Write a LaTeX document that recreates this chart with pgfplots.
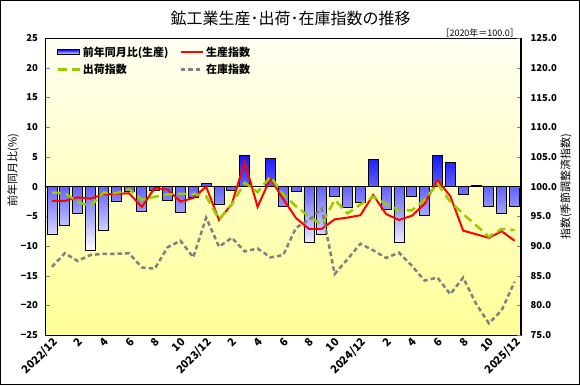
\documentclass[border=0pt]{standalone}
\usepackage{pgfplots}
\usepackage{pgfplotstable}
\pgfplotsset{compat=1.18}
\usepackage{fontspec}
\setmainfont{Noto Sans CJK JP}
\definecolor{barblue}{RGB}{20,20,255}
\definecolor{linegreen}{RGB}{153,204,0}
\definecolor{linegray}{RGB}{128,128,128}
\definecolor{bgtop}{RGB}{255,255,242}
\definecolor{bgbot}{RGB}{255,255,150}

\pgfplotstableread{
x yoy prod ship inv
0 -8.0 97.6 99.0 86.5
1 -6.5 97.6 98.9 88.8
2 -4.5 98.2 97.5 87.5
3 -10.7 98.0 96.7 88.5
4 -7.4 98.7 99.0 88.7
5 -2.5 98.8 98.9 88.7
6 -0.8 98.9 99.6 88.8
7 -4.1 96.6 97.8 86.4
8 -0.7 99.8 98.3 86.2
9 -2.3 99.5 98.7 89.8
10 -4.3 97.5 98.8 90.9
11 -1.8 98.1 98.8 88.1
12 0.6 100.0 98.4 94.8
13 -3.0 94.4 94.5 89.9
14 -0.6 97.1 97.0 91.4
15 5.3 104.2 100.7 89.1
16 0.0 96.6 99.1 89.6
17 4.8 101.4 101.7 88.1
18 -3.4 97.9 98.7 88.5
19 -0.8 94.7 96.7 93.1
20 -9.4 92.9 95.0 94.4
21 -8.0 92.9 93.6 96.3
22 -1.6 94.5 97.8 85.3
23 -3.5 94.8 95.5 87.8
24 -2.6 95.2 97.0 90.4
25 4.6 98.6 98.3 89.3
26 -3.8 95.4 97.1 88.0
27 -9.4 94.4 96.0 88.9
28 -1.6 95.1 96.0 86.7
29 -4.8 97.1 97.8 84.2
30 5.2 101.1 100.5 84.7
31 4.1 98.4 97.5 81.9
32 -1.3 92.6 95.4 84.7
33 0.2 92.0 93.5 80.3
34 -3.3 91.4 91.6 77.0
35 -4.5 92.5 92.9 79.2
36 -3.3 90.9 92.7 84.0
}\data

\begin{document}
\begin{tikzpicture}[x=1pt,y=1pt]
% axis box: lower-left corner at (0,0), 475.5 x 297
\path[use as bounding box] (-45.5,-49.8) rectangle (534.5,335.2);
\fill[white] (-45.5,-49.8) rectangle (534.5,335.2);
\draw[black, line width=1pt] (-45,-49.3) rectangle (534,334.7);
\node[font=\fontsize{16}{16}\selectfont] at (245,317.2) {鉱工業生産･出荷･在庫指数の推移};
\node[anchor=east, font=\fontsize{9}{9}\selectfont] at (477,302.2) {［2020年＝100.0］};

\begin{axis}[
  scale only axis,
  width=475.5pt, height=297pt,
  xmin=-0.5, xmax=36.5, ymin=-25, ymax=25,
  ytick={-25,-20,...,25},
  yticklabels={−25,−20,−15,−10,−5,0,5,10,15,20,25},
  ytick pos=left, tick align=inside, major tick length=4pt,
  xtick={0,2,...,36},
  xticklabels={2022/12,2,4,6,8,10,2023/12,2,4,6,8,10,2024/12,2,4,6,8,10,2025/12},
  xtick pos=bottom, x tick style={draw=none},
  xticklabel style={rotate=45, anchor=north east, font=\fontsize{11}{11}\selectfont\bfseries, inner sep=1pt},
  yticklabel style={font=\fontsize{9.5}{9.5}\selectfont\bfseries, xshift=-4pt},
  axis background/.style={top color=bgtop, bottom color=bgbot},
  axis line style={line width=1.2pt},
  ylabel={前年同月比(\%)},
  ylabel style={at={(axis description cs:-0.068,0.556)}, anchor=center, font=\fontsize{11}{11}\selectfont},
]
\addplot[ybar, bar width=10pt, draw=black, line width=0.8pt, top color=barblue, bottom color=white] table[x=x,y=yoy]{\data};
\draw[black, line width=1pt] (axis cs:-0.5,0) -- (axis cs:36.5,0);
\end{axis}

\begin{axis}[
  scale only axis,
  width=475.5pt, height=297pt,
  xmin=-0.5, xmax=36.5, ymin=75, ymax=125,
  hide x axis, axis y line*=right, y axis line style={-, line width=1.2pt},
  ytick={75,80,...,125},
  yticklabels={75.0,80.0,85.0,90.0,95.0,100.0,105.0,110.0,115.0,120.0,125.0},
  tick align=inside, major tick length=4pt,
  yticklabel style={font=\fontsize{9.5}{9.5}\selectfont\bfseries, xshift=6pt},
  ylabel={指数(季節調整済指数)},
  ylabel style={at={(axis description cs:1.095,0.5)}, anchor=center, font=\fontsize{11}{11}\selectfont},
  legend columns=2,
  legend cell align=left,
  legend image code/.code={\draw[#1] (0pt,0pt) -- (22pt,0pt);},
  legend style={draw=none, fill=none, at={(axis description cs:0.016,0.985)}, anchor=north west,
    font=\fontsize{11}{11}\selectfont\bfseries, row sep=2pt,
    /tikz/every even column/.append style={column sep=9pt}},
]
\addlegendimage{legend image code/.code={\draw[draw=black, line width=0.8pt, top color=barblue, bottom color=white] (0pt,-2.5pt) rectangle (22pt,2.5pt);}}
\addlegendentry{前年同月比(生産)}
\addplot[red, line width=2pt] table[x=x,y=prod]{\data};
\addlegendentry{生産指数}
\addplot[linegreen, line width=2.5pt, dash pattern=on 9pt off 5pt] table[x=x,y=ship]{\data};
\addlegendentry{出荷指数}
\addplot[linegray, line width=2.5pt, dash pattern=on 4.5pt off 3pt] table[x=x,y=inv]{\data};
\addlegendentry{在庫指数}
\end{axis}
\end{tikzpicture}
\end{document}
